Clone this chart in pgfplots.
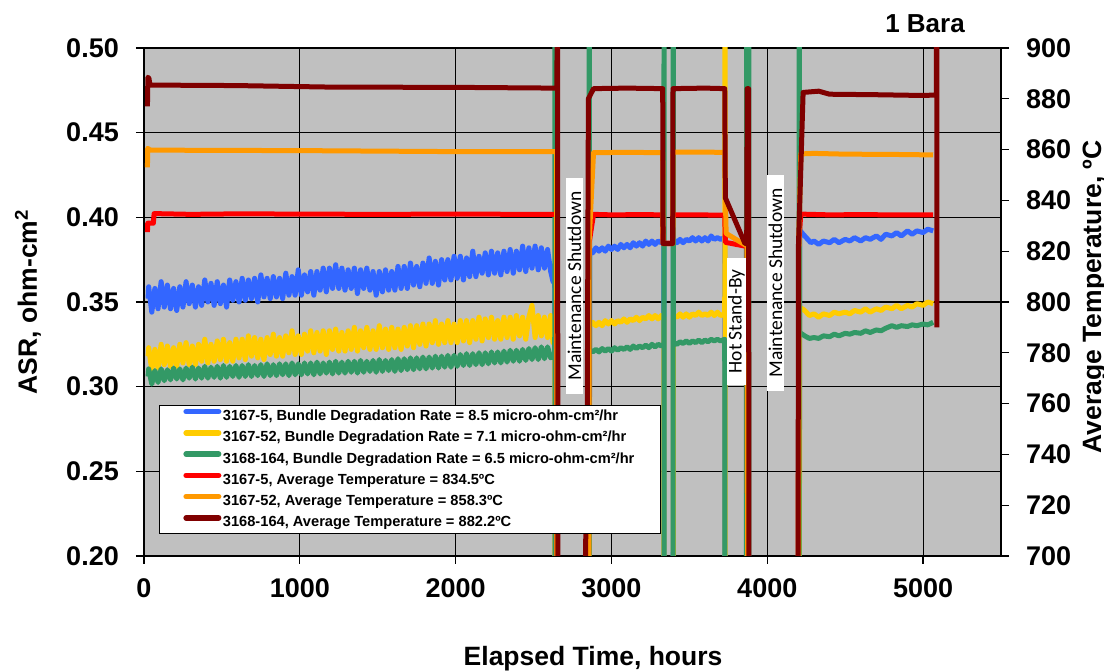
\documentclass[border=0pt]{standalone}
\usepackage{fontspec}
\setmainfont{Liberation Sans}
\newfontfamily\carlito{Carlito}
\usepackage{pgfplots}
\pgfplotsset{compat=1.18}
\definecolor{cblue}{HTML}{3366FF}
\definecolor{cyellow}{HTML}{FFCC00}
\definecolor{cgreen}{HTML}{339966}
\definecolor{cred}{HTML}{FF0000}
\definecolor{corange}{HTML}{FF9900}
\definecolor{cdred}{HTML}{800000}
\definecolor{bgray}{HTML}{C0C0C0}
\begin{document}
\begin{tikzpicture}
\begin{axis}[name=main, width=857pt, height=508pt, scale only axis,
  xmin=0, xmax=5500, ymin=0.2, ymax=0.5,
  axis background/.style={fill=bgray},
  xtick={0,1000,2000,3000,4000,5000},
  ytick={0.2,0.25,0.3,0.35,0.4,0.45,0.5},
  xtick pos=bottom, ytick pos=left,
  tick align=outside, major tick length=8pt,
  grid=major, grid style={black, line width=1.1pt},
  axis line style={black, line width=1.2pt},
  every tick/.style={black, line width=1.2pt},
  tick label style={font=\fontsize{27}{32}\selectfont\bfseries, inner sep=0pt},
  /pgf/number format/assume math mode=true,
  yticklabel style={/pgf/number format/.cd, fixed, fixed zerofill, precision=2},
  xticklabel style={/pgf/number format/1000 sep={}},
  yticklabel shift=17pt, xticklabel shift=14pt,
  xlabel={Elapsed Time, hours},
  xlabel style={at={(axis description cs:0.524,-0.2146)}, anchor=base, font=\fontsize{26.5}{30}\selectfont\bfseries, inner sep=0pt},
  ylabel={ASR, ohm-cm\textsuperscript{2}},
  ylabel style={at={(axis description cs:-0.1249,0.5)}, anchor=base, rotate=0, font=\fontsize{26.5}{30}\selectfont\bfseries, inner sep=0pt},
  unbounded coords=jump,
  every axis plot/.append style={line width=5pt, line join=round},
]
% 3167-5 ASR
\addplot[cblue] coordinates {
(26,0.352)(30,0.359)(50,0.344)(70,0.358)(90,0.346)(110,0.362)(130,0.347)(150,0.360)(170,0.346)(190,0.358)(210,0.345)
(230,0.359)(250,0.347)(270,0.362)(290,0.349)(310,0.360)(330,0.347)(350,0.359)(370,0.348)(390,0.363)(410,0.350)
(430,0.361)(450,0.348)(470,0.362)(490,0.349)(510,0.360)(530,0.347)(550,0.363)(570,0.351)(590,0.362)(610,0.350)
(630,0.364)(650,0.351)(670,0.363)(690,0.352)(710,0.364)(730,0.350)(750,0.366)(770,0.353)(790,0.364)(810,0.352)
(830,0.365)(850,0.353)(870,0.364)(890,0.352)(910,0.367)(930,0.354)(950,0.365)(970,0.354)(990,0.369)(1010,0.354)
(1030,0.366)(1050,0.356)(1070,0.368)(1090,0.354)(1110,0.368)(1130,0.357)(1150,0.370)(1170,0.356)(1190,0.370)(1210,0.358)
(1230,0.372)(1250,0.358)(1270,0.370)(1290,0.357)(1310,0.369)(1330,0.358)(1350,0.370)(1370,0.355)(1390,0.369)(1410,0.358)
(1430,0.370)(1450,0.357)(1470,0.368)(1490,0.354)(1510,0.368)(1530,0.356)(1550,0.369)(1570,0.357)(1590,0.368)(1610,0.357)
(1630,0.371)(1650,0.358)(1670,0.371)(1690,0.358)(1710,0.373)(1730,0.360)(1750,0.371)(1770,0.359)(1790,0.373)(1810,0.361)
(1830,0.376)(1850,0.361)(1870,0.374)(1890,0.360)(1910,0.375)(1930,0.363)(1950,0.375)(1970,0.363)(1990,0.377)(2010,0.364)
(2030,0.377)(2050,0.363)(2070,0.376)(2090,0.365)(2110,0.380)(2130,0.365)(2150,0.377)(2170,0.367)(2190,0.379)(2210,0.366)
(2230,0.380)(2250,0.367)(2270,0.379)(2290,0.366)(2310,0.380)(2330,0.368)(2350,0.381)(2370,0.367)(2390,0.380)(2410,0.369)
(2430,0.383)(2450,0.368)(2470,0.382)(2490,0.370)(2510,0.383)(2530,0.369)(2550,0.382)(2570,0.370)(2590,0.381)(2610,0.368)
(2625,0.362)(2636,0.372)
(2638,0.0)(2639,nan)
(2856,0.0)(2860,0.381)(2880,0.379)(2900,0.382)(2920,0.380)(2940,0.382)(2960,0.380)(2980,0.383)(3000,0.381)(3020,0.383)
(3040,0.381)(3060,0.384)(3080,0.382)(3100,0.384)(3120,0.382)(3140,0.385)(3160,0.383)(3180,0.385)(3200,0.383)(3220,0.386)
(3240,0.384)(3260,0.386)(3280,0.384)(3300,0.386)(3320,0.385)(3336,0.386)(3338,0.0)(3339,nan)
(3395,0.0)(3398,0.387)(3420,0.385)(3440,0.387)(3460,0.385)(3480,0.387)(3500,0.386)(3520,0.388)(3540,0.386)(3560,0.388)
(3580,0.386)(3600,0.388)(3620,0.386)(3640,0.389)(3660,0.387)(3680,0.388)(3700,0.387)(3727,0.388)
(3729,0.0)(3730,nan)
(4204,0.0)(4208,0.3925)(4230,0.390)(4260,0.387)(4280,0.385)(4300,0.386)(4330,0.384)(4360,0.386)(4400,0.385)(4430,0.387)
(4460,0.385)(4500,0.387)(4530,0.386)(4560,0.388)(4600,0.386)(4630,0.388)(4660,0.387)(4700,0.389)(4730,0.387)(4760,0.390)
(4800,0.389)(4830,0.391)(4860,0.389)(4900,0.392)(4930,0.390)(4960,0.392)(5000,0.391)(5030,0.393)(5065,0.392)
};
% 3167-52 ASR
\addplot[cyellow] coordinates {
(26,0.318)(30,0.323)(50,0.310)(70,0.322)(90,0.311)(110,0.325)(130,0.313)(150,0.324)(170,0.312)(190,0.323)(210,0.312)
(230,0.325)(250,0.314)(270,0.326)(290,0.313)(310,0.324)(330,0.313)(350,0.325)(370,0.315)(390,0.328)(410,0.314)
(430,0.325)(450,0.315)(470,0.327)(490,0.316)(510,0.328)(530,0.315)(550,0.326)(570,0.315)(590,0.328)(610,0.317)
(630,0.328)(650,0.316)(670,0.330)(690,0.318)(710,0.329)(730,0.317)(750,0.328)(770,0.316)(790,0.329)(810,0.319)
(830,0.331)(850,0.318)(870,0.329)(890,0.318)(910,0.330)(930,0.320)(950,0.333)(970,0.319)(990,0.330)(1010,0.319)
(1030,0.331)(1050,0.321)(1070,0.333)(1090,0.320)(1110,0.332)(1130,0.321)(1150,0.333)(1170,0.319)(1190,0.333)(1210,0.322)
(1230,0.334)(1250,0.321)(1270,0.332)(1290,0.321)(1310,0.333)(1330,0.322)(1350,0.335)(1370,0.321)(1390,0.333)(1410,0.323)
(1430,0.335)(1450,0.322)(1470,0.333)(1490,0.322)(1510,0.336)(1530,0.323)(1550,0.334)(1570,0.322)(1590,0.335)(1610,0.323)
(1630,0.334)(1650,0.322)(1670,0.335)(1690,0.324)(1710,0.336)(1730,0.323)(1750,0.336)(1770,0.325)(1790,0.337)(1810,0.324)
(1830,0.337)(1850,0.326)(1870,0.339)(1890,0.325)(1910,0.337)(1930,0.326)(1950,0.339)(1970,0.326)(1990,0.337)(2010,0.326)
(2030,0.339)(2050,0.327)(2070,0.339)(2090,0.326)(2110,0.339)(2130,0.328)(2150,0.341)(2170,0.327)(2190,0.340)(2210,0.329)
(2230,0.341)(2250,0.328)(2270,0.339)(2290,0.328)(2310,0.341)(2330,0.329)(2350,0.341)(2370,0.328)(2390,0.342)(2410,0.330)
(2430,0.341)(2450,0.328)(2470,0.341)(2490,0.348)(2510,0.329)(2530,0.342)(2550,0.330)(2570,0.341)(2590,0.329)(2610,0.342)
(2625,0.326)(2636,0.334)
(2638,0.0)(2639,nan)
(2856,0.0)(2860,0.336)(2880,0.338)(2900,0.336)(2920,0.338)(2940,0.336)(2960,0.339)(2980,0.337)(3000,0.339)(3020,0.337)
(3040,0.339)(3060,0.338)(3080,0.340)(3100,0.338)(3120,0.340)(3140,0.339)(3160,0.341)(3180,0.339)(3200,0.341)(3220,0.340)
(3240,0.342)(3260,0.340)(3280,0.342)(3300,0.340)(3320,0.342)(3336,0.341)(3338,0.0)(3339,nan)
(3395,0.0)(3398,0.342)(3420,0.341)(3440,0.343)(3460,0.341)(3480,0.343)(3500,0.341)(3520,0.343)(3540,0.342)(3560,0.344)
(3580,0.342)(3600,0.343)(3620,0.342)(3640,0.344)(3660,0.342)(3680,0.344)(3700,0.342)(3727,0.343)
(3729,0.6)(3730,0.0)(3731,nan)
(4204,0.0)(4208,0.347)(4240,0.345)(4270,0.342)(4300,0.343)(4330,0.341)(4360,0.343)(4400,0.342)(4430,0.344)(4460,0.343)
(4500,0.344)(4530,0.343)(4560,0.345)(4600,0.344)(4630,0.346)(4660,0.344)(4700,0.346)(4730,0.345)(4760,0.347)(4800,0.346)
(4830,0.348)(4860,0.346)(4900,0.348)(4930,0.347)(4960,0.349)(5000,0.348)(5030,0.350)(5065,0.349)
};
% 3168-164 ASR
\addplot[cgreen] coordinates {
(26,0.306)(30,0.3105)(50,0.3015)(70,0.3095)(90,0.3025)(110,0.3105)(130,0.3035)(150,0.3100)(170,0.3040)(190,0.3110)(210,0.3045)
(230,0.3105)(250,0.3040)(270,0.3110)(290,0.3050)(310,0.3115)(330,0.3045)(350,0.3110)(370,0.3050)(390,0.3120)(410,0.3050)
(430,0.3115)(450,0.3055)(470,0.3120)(490,0.3050)(510,0.3125)(530,0.3055)(550,0.3120)(570,0.3060)(590,0.3125)(610,0.3055)
(630,0.3125)(650,0.3060)(670,0.3130)(690,0.3060)(710,0.3125)(730,0.3065)(750,0.3130)(770,0.3060)(790,0.3135)(810,0.3065)
(830,0.3130)(850,0.3065)(870,0.3135)(890,0.3070)(910,0.3135)(930,0.3065)(950,0.3140)(970,0.3070)(990,0.3135)(1010,0.3070)
(1030,0.3140)(1050,0.3075)(1070,0.3140)(1090,0.3070)(1110,0.3145)(1130,0.3075)(1150,0.3140)(1170,0.3080)(1190,0.3145)(1210,0.3075)
(1230,0.3150)(1250,0.3080)(1270,0.3145)(1290,0.3080)(1310,0.3150)(1330,0.3085)(1350,0.3150)(1370,0.3080)(1390,0.3155)(1410,0.3085)
(1430,0.3150)(1450,0.3090)(1470,0.3155)(1490,0.3085)(1510,0.3160)(1530,0.3090)(1550,0.3155)(1570,0.3095)(1590,0.3160)(1610,0.3090)
(1630,0.3165)(1650,0.3095)(1670,0.3165)(1690,0.3100)(1710,0.3170)(1730,0.3100)(1750,0.3170)(1770,0.3105)(1790,0.3175)(1810,0.3105)
(1830,0.3175)(1850,0.3110)(1870,0.3180)(1890,0.3110)(1910,0.3180)(1930,0.3115)(1950,0.3185)(1970,0.3115)(1990,0.3185)(2010,0.3120)
(2030,0.3190)(2050,0.3125)(2070,0.3195)(2090,0.3125)(2110,0.3195)(2130,0.3130)(2150,0.3200)(2170,0.3130)(2190,0.3200)(2210,0.3135)
(2230,0.3205)(2250,0.3140)(2270,0.3205)(2290,0.3140)(2310,0.3210)(2330,0.3145)(2350,0.3215)(2370,0.3150)(2390,0.3215)(2410,0.3150)
(2430,0.3220)(2450,0.3155)(2470,0.3225)(2490,0.3160)(2510,0.3230)(2530,0.3160)(2550,0.3235)(2570,0.3165)(2590,0.3235)(2610,0.3170)
(2625,0.3180)(2636,0.319)
(2638,0.6)(2639,0.0)(2640,nan)
(2856,0.0)(2857,0.6)(2860,0.322)(2880,0.3205)(2900,0.322)(2920,0.3205)(2940,0.3225)(2960,0.321)(2980,0.3225)(3000,0.321)
(3020,0.323)(3040,0.3215)(3060,0.323)(3080,0.322)(3100,0.3235)(3120,0.322)(3140,0.324)(3160,0.3225)(3180,0.324)(3200,0.323)
(3220,0.3245)(3240,0.323)(3260,0.325)(3280,0.3235)(3300,0.325)(3320,0.324)(3336,0.325)(3338,0.6)(3339,0.0)(3340,nan)
(3395,0.0)(3396,0.6)(3398,0.326)(3420,0.325)(3440,0.3265)(3460,0.3255)(3480,0.327)(3500,0.3255)(3520,0.327)(3540,0.326)
(3560,0.3275)(3580,0.326)(3600,0.3275)(3620,0.3265)(3640,0.328)(3660,0.327)(3680,0.328)(3700,0.327)(3727,0.328)
(3729,0.0)(3730,nan)
(3866,0.0)(3867,0.6)(3881,0.6)(3882,0.0)(3883,nan)
(4204,0.0)(4205,0.6)(4208,0.332)(4240,0.330)(4270,0.3285)(4300,0.329)(4330,0.3285)(4360,0.330)(4400,0.3295)(4430,0.331)
(4460,0.330)(4500,0.3315)(4530,0.331)(4560,0.332)(4600,0.3315)(4630,0.333)(4660,0.332)(4700,0.3335)(4730,0.333)(4760,0.3345)
(4800,0.336)(4830,0.335)(4860,0.336)(4900,0.3355)(4930,0.3365)(4960,0.336)(5000,0.337)(5030,0.3365)(5065,0.338)
};
\end{axis}
\begin{axis}[width=857pt, height=508pt, scale only axis,
  xmin=0, xmax=5500, ymin=700, ymax=900,
  axis x line=none, axis y line*=right,
  ytick={700,720,740,760,780,800,820,840,860,880,900},
  tick align=outside, major tick length=8pt,
  axis line style={black, line width=1.2pt},
  every tick/.style={black, line width=1.2pt},
  tick label style={font=\fontsize{27}{32}\selectfont\bfseries, inner sep=0pt},
  /pgf/number format/assume math mode=true,
  yticklabel shift=17pt,
  ylabel={Average Temperature, ºC},
  ylabel style={at={(axis description cs:1.1167,0.51)}, anchor=base, rotate=0, font=\fontsize{26.5}{30}\selectfont\bfseries, inner sep=0pt},
  unbounded coords=jump,
  every axis plot/.append style={line width=5pt, line join=round},
  legend image code/.code={\draw[#1, line width=5.5pt, line cap=round] (0pt,5pt) -- (32.5pt,5pt);},
  legend cell align=left,
  legend style={at={(0.0175,0.2982)}, anchor=north west, draw=black, line width=0.8pt, fill=white,
    font=\fontsize{14.65}{17}\selectfont\bfseries,
    inner xsep=24pt, inner ysep=4pt, row sep=6.6pt, column sep=0pt,
    nodes={inner xsep=1.5pt, inner ysep=0pt, text height=10.8pt, text depth=3pt}},
]
\addlegendimage{cblue}
\addlegendentry{3167-5, Bundle Degradation Rate = 8.5 micro-ohm-cm²/hr}
\addlegendimage{cyellow}
\addlegendentry{3167-52, Bundle Degradation Rate = 7.1 micro-ohm-cm²/hr}
\addlegendimage{cgreen}
\addlegendentry{3168-164, Bundle Degradation Rate = 6.5 micro-ohm-cm²/hr}
% 3167-5 temperature
\addplot[cred] coordinates {
(22,827.5)(24,831)(60,831)(65,834.8)(300,834.5)(600,834.7)(1000,834.6)(1500,834.5)(2000,834.6)(2500,834.5)(2648,834.5)
(2652,600)(2653,nan)
(2850,600)(2856,823)(2885,834.5)(3000,834.3)(3200,834.4)(3329,834.3)(3331,823.2)(3393,823.2)(3395,834.3)(3500,834.3)(3727,834.2)
(3731,823.5)(3857,822)(3870,822)(3877,600)(3878,nan)
(4198,600)(4202,823)(4215,834.6)(4400,834.3)(4600,834.4)(4800,834.3)(5065,834.3)
};
\addlegendentry{3167-5, Average Temperature = 834.5ºC}
% 3167-52 temperature
\addplot[corange] coordinates {
(22,853)(24,860.5)(35,860)(45,859.8)(400,859.7)(1000,859.6)(1500,859.4)(2000,859.2)(2648,859.2)
(2652,600)(2653,nan)
(2850,600)(2856,823)(2885,858.8)(3100,858.9)(3329,858.8)(3331,823)(3393,823)(3395,859)(3600,859)(3727,858.9)
(3731,841)(3736,827)(3857,822.5)(3870,822.5)(3877,600)(3878,nan)
(4198,600)(4202,823)(4215,858.3)(4300,858.5)(4500,858.2)(4800,858.1)(5065,857.9)
};
\addlegendentry{3167-52, Average Temperature = 858.3ºC}
% 3168-164 temperature
\addplot[cdred] coordinates {
(22,877)(25,888.5)(32,888)(38,885.4)(600,885.2)(1200,884.6)(2000,884.5)(2648,884.2)
(2650,884)(2653,950)(2658,600)(2659,nan)
(2815,600)(2845,760)(2852,880)(2885,884)(3100,884.2)(3329,884)(3331,823)(3393,823)(3395,884)(3600,884.2)(3727,884)
(3731,841)(3857,823)(3868,823)(3871,884)(3880,884)(3883,600)(3884,nan)
(4196,600)(4200,822)(4230,882.5)(4330,883)(4400,881.8)(4700,881.6)(5000,881.3)(5085,881.5)(5087,950)(5089,790)
};
\addlegendentry{3168-164, Average Temperature = 882.2ºC}
\node[fill=white, rotate=90, font=\carlito\fontsize{19.5}{22}\selectfont, inner xsep=13pt, inner ysep=1.5pt] at (axis cs:2763,806.3) {Maintenance Shutdown};
\node[fill=white, rotate=90, font=\carlito\fontsize{19.5}{22}\selectfont, inner xsep=12pt, inner ysep=1.5pt] at (axis cs:3802,792.3) {Hot Stand-By};
\node[fill=white, rotate=90, font=\carlito\fontsize{19.5}{22}\selectfont, inner xsep=13pt, inner ysep=1.5pt] at (axis cs:4053,807.5) {Maintenance Shutdown};
\end{axis}
\node[anchor=base east, font=\fontsize{26}{30}\selectfont\bfseries, inner sep=0pt] at ([shift={(-36pt,15pt)}]main.north east) {1 Bara};
\pgfresetboundingbox
\path[use as bounding box] ([shift={(-144pt,-115pt)}]main.south west) rectangle ([shift={(103pt,48pt)}]main.north east);
\end{tikzpicture}
\end{document}
